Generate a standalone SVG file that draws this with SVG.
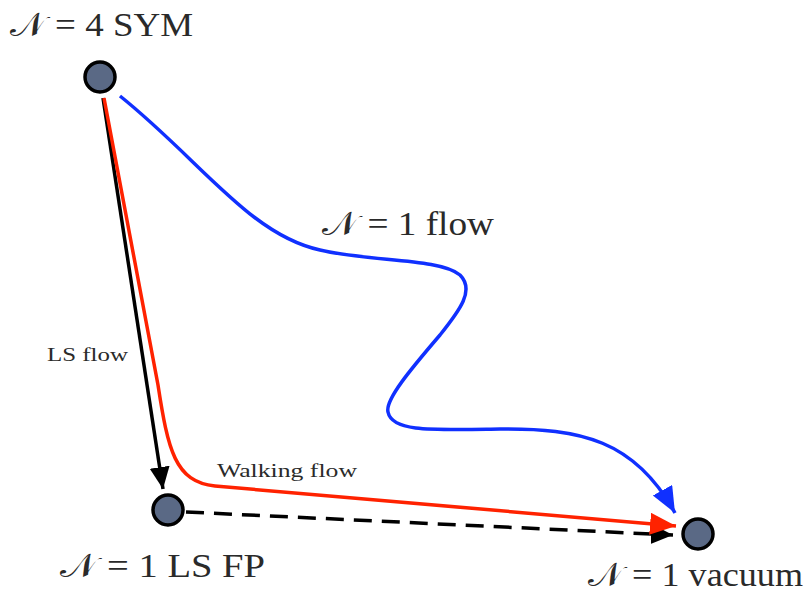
<svg xmlns="http://www.w3.org/2000/svg" width="806" height="592" viewBox="0 0 806 592">
<style>
.lbl{font-family:"Liberation Serif","DejaVu Serif",serif;fill:#2a2a2a}
.big{font-size:33px}
.small{font-size:18px}
.node{fill:#5a6985;stroke:#000;stroke-width:3.5}
.c{fill:none;stroke-width:3.5}
</style>
<defs>
<marker id="ab" markerUnits="userSpaceOnUse" markerWidth="24" markerHeight="22" refX="22" refY="10" orient="auto"><path d="M0,0 L22,10 L0,20 z" fill="#000"/></marker>
<marker id="ar" markerUnits="userSpaceOnUse" markerWidth="30" markerHeight="24" refX="26" refY="11" orient="auto"><path d="M0,0 L26,11 L0,22 z" fill="#ff2200"/></marker>
<marker id="abl" markerUnits="userSpaceOnUse" markerWidth="30" markerHeight="24" refX="26" refY="11" orient="auto"><path d="M0,0 L26,11 L0,22 z" fill="#1030ff"/></marker>
</defs>
<g id="connectors">
<path class="c" d="M120,96 C200,160 250,235 320,250 C370,262 440,258 460,275 C475,290 460,310 440,335 C410,370 385,400 388,412 C392,432 430,430 500,429 C580,428 635,440 675,513" stroke="#1030ff" marker-end="url(#abl)"/>
<path class="c" d="M103,98 L163,489" stroke="#000" marker-end="url(#ab)"/>
<path class="c" d="M186,512 L673,535" stroke="#000" stroke-dasharray="18,10" marker-end="url(#ab)"/>
<path class="c" d="M104,98 L158,385 C168,450 175,482 215,486 L676,526" stroke="#ff2200" marker-end="url(#ar)"/>
</g>
<g id="node-sym"><circle class="node" cx="100" cy="77" r="15"/></g>
<g id="node-lsfp"><circle class="node" cx="168" cy="510" r="15"/></g>
<g id="node-vacuum"><circle class="node" cx="698" cy="534" r="15"/></g>
<g id="labels">
<text class="lbl big" x="10" y="36" textLength="183" lengthAdjust="spacingAndGlyphs">𝒩 = 4 SYM</text>
<text class="lbl big" x="322" y="235" textLength="172" lengthAdjust="spacingAndGlyphs">𝒩 = 1 flow</text>
<text class="lbl big" x="60" y="577" textLength="205" lengthAdjust="spacingAndGlyphs">𝒩 = 1 LS FP</text>
<text class="lbl big" x="588" y="586" textLength="215" lengthAdjust="spacingAndGlyphs">𝒩 = 1 vacuum</text>
<text class="lbl small" x="47" y="361" textLength="81" lengthAdjust="spacingAndGlyphs">LS flow</text>
<text class="lbl small" x="217" y="477" textLength="140" lengthAdjust="spacingAndGlyphs">Walking flow</text>
</g>
</svg>
